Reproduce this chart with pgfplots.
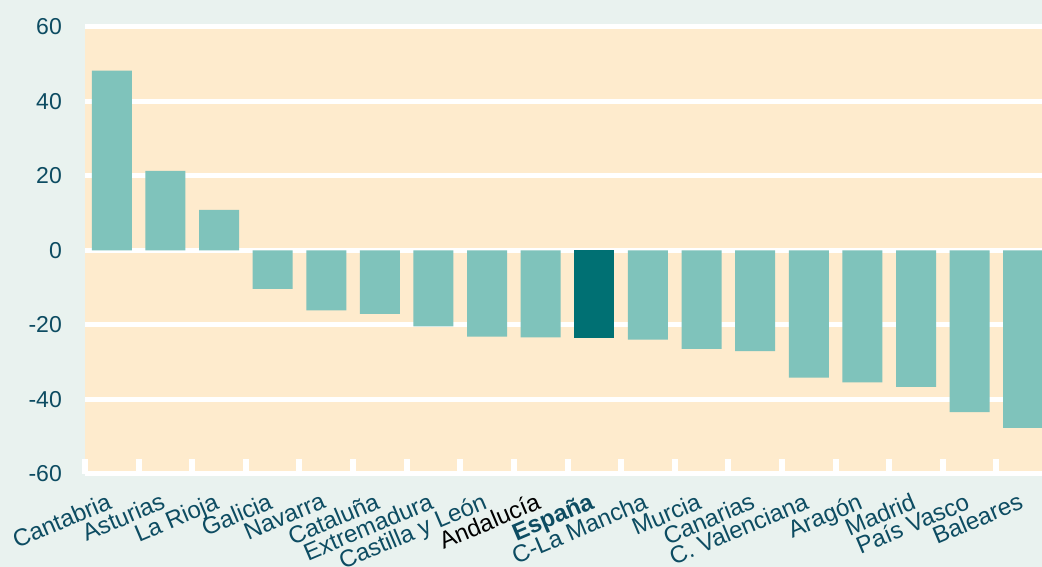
\documentclass[border=0pt]{standalone}
\usepackage{pgfplots}
\pgfplotsset{compat=1.18}
\usepackage{fontspec}
\setmainfont{Liberation Sans}
\definecolor{outerbg}{HTML}{E9F2EF}
\definecolor{plotbg}{HTML}{FEEBCD}
\definecolor{barc}{HTML}{7FC3BB}
\definecolor{bardark}{HTML}{007073}
\definecolor{labc}{HTML}{0D4C62}
\begin{document}
\begin{tikzpicture}
\fill[outerbg] (0pt,0pt) rectangle (1042pt,567pt);
\useasboundingbox (0pt,0pt) rectangle (1042pt,567pt);
\begin{axis}[
  at={(85pt,93pt)}, anchor=south west,
  width=957pt, height=447pt, scale only axis,
  xmin=-0.5, xmax=17.35, ymin=-60, ymax=60,
  axis background/.style={fill=plotbg},
  axis line style={draw=none},
  ytick={-60,-40,-20,0,20,40,60},
  yticklabels={-60,-40,-20,0,20,40,60},
  ymajorgrids, major grid style={white, line width=5pt},
  xtick={0,1,2,3,4,5,6,7,8,9,10,11,12,13,14,15,16,17},
  xticklabels={Cantabria,Asturias,La Rioja,Galicia,Navarra,Cataluña,Extremadura,Castilla y León,{\textcolor{black}{Andalucía}},{\textbf{España}},C-La Mancha,Murcia,Canarias,C. Valenciana,Aragón,Madrid,País Vasco,Baleares},
  minor xtick={-0.5,0.5,1.5,2.5,3.5,4.5,5.5,6.5,7.5,8.5,9.5,10.5,11.5,12.5,13.5,14.5,15.5,16.5},
  xtick pos=bottom, ytick pos=left,
  major tick length=0pt, minor tick length=15pt, tick align=inside,
  minor tick style={white, line width=6pt},
  tick label style={font=\fontsize{23}{26}\selectfont, text=labc},
  xticklabel style={font=\fontsize{24}{27}\selectfont, rotate=23, anchor=north east, inner sep=1pt, yshift=-13pt, xshift=-11pt},
  yticklabel style={anchor=east, inner sep=0pt, xshift=-23pt},
]
\addplot[ybar, bar width=40pt, bar shift=0pt, fill=barc, draw=none] coordinates {
(0,48.3)(1,21.4)(2,10.9)(3,-10.3)(4,-16.1)(5,-17.0)(6,-20.4)(7,-23.1)(8,-23.3)
(10,-23.9)(11,-26.4)(12,-27.0)(13,-34.1)(14,-35.4)(15,-36.6)(16,-43.4)(17,-47.6)};
\addplot[ybar, bar width=40pt, bar shift=0pt, fill=bardark, draw=none] coordinates {(9,-23.6)};
\end{axis}
\end{tikzpicture}
\end{document}
